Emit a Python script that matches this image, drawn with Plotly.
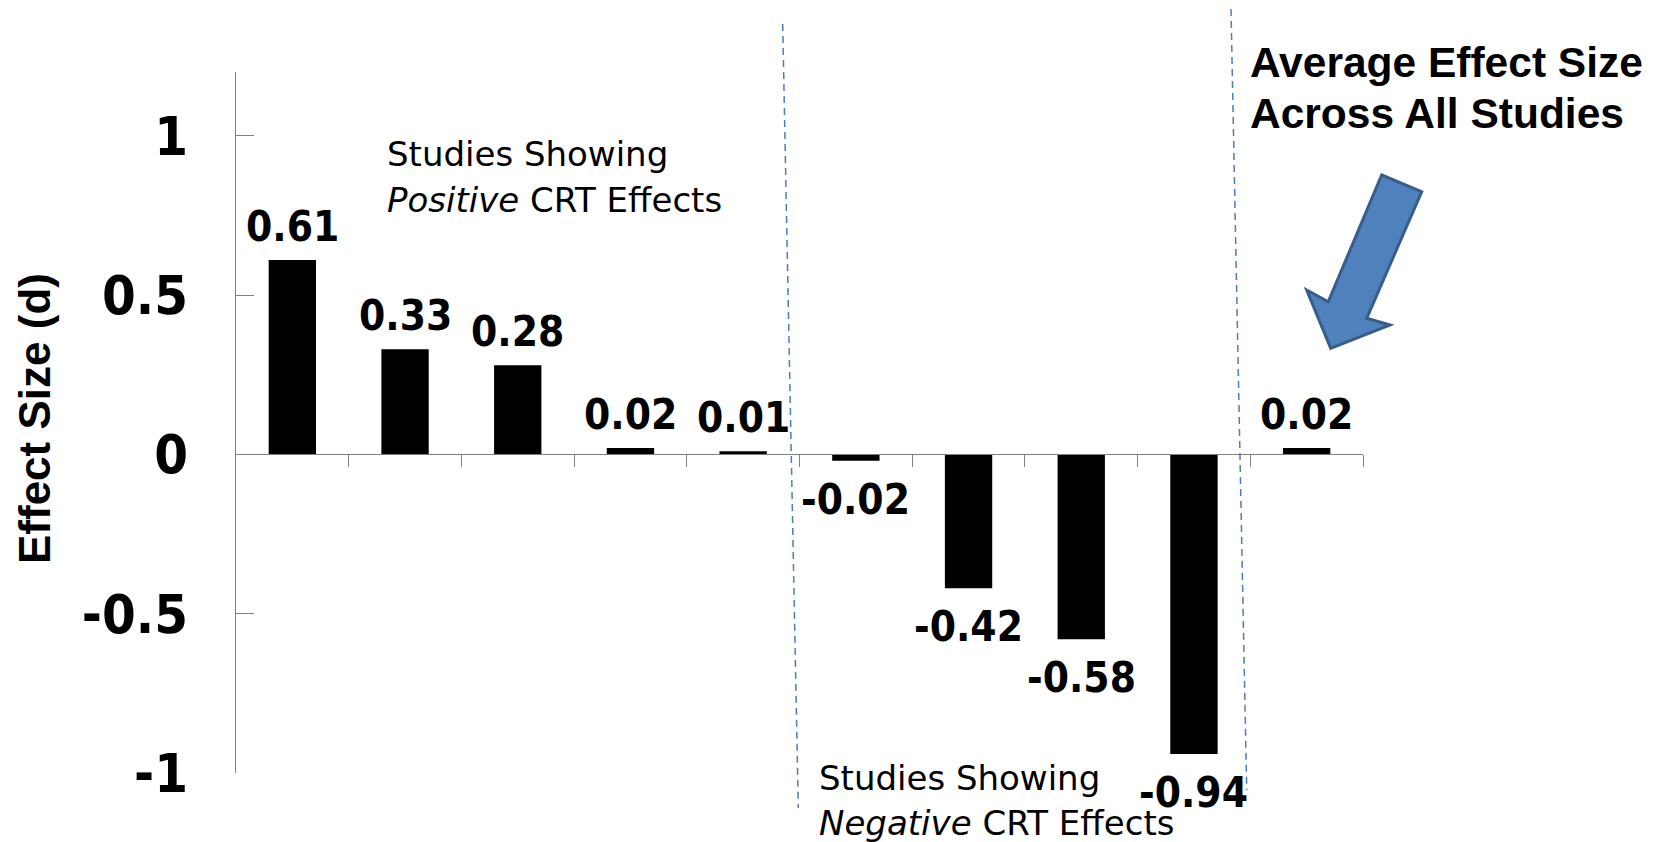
import plotly.graph_objects as go

# ---- data ----
studies = list(range(10))
effect_sizes = [0.61, 0.33, 0.28, 0.02, 0.01, -0.02, -0.42, -0.58, -0.94, 0.02]
y_tick_vals = [-1, -0.5, 0, 0.5, 1]
y_tick_text = ["-1", "-0.5", "0", "0.5", "1"]
y_title = "Effect Size (d)"

W, H = 1664, 842
L, R, T, B = 236, 301, 72, 69
pw, ph = W - L - R, H - T - B


def pxx(x):
    return (x - L) / pw


def pyy(y):
    return (H - B - y) / ph


LABEL_FONT = dict(family="DejaVu Sans Condensed, DejaVu Sans", size=42, color="black", weight="bold")
TICK_FONT = dict(family="DejaVu Sans Condensed, DejaVu Sans", size=54, color="black", weight="bold")

fig = go.Figure()
fig.add_trace(go.Bar(
    x=studies, y=effect_sizes, width=0.42,
    marker=dict(color="black", line=dict(width=0)),
    hoverinfo="skip", showlegend=False,
))

annotations = []
for xi, v in zip(studies, effect_sizes):
    annotations.append(dict(
        x=xi, y=v, xref="x", yref="y", text=f"{v:.2f}", showarrow=False,
        xanchor="center", yanchor="bottom" if v >= 0 else "top",
        yshift=7 if v >= 0 else -12, font=LABEL_FONT,
    ))

# axis title (rotated)
annotations.append(dict(
    x=pxx(34), y=pyy(418), xref="paper", yref="paper", text=y_title,
    showarrow=False, textangle=-90, xanchor="center", yanchor="middle",
    font=dict(family="Liberation Sans, Arial", size=44, color="black", weight="bold"),
))

REG_SIZE = 34
REG = dict(family="DejaVu Sans", size=REG_SIZE, color="black")
asc_reg = 0.928 * REG_SIZE + 1


def line_note(text, left, baseline, font, asc):
    return dict(x=pxx(left), y=pyy(baseline - asc), xref="paper", yref="paper",
                text=text, showarrow=False, xanchor="left", yanchor="top",
                font=font, borderpad=0)


annotations.append(line_note("Studies Showing", 386, 166, REG, asc_reg))
annotations.append(line_note("<i>Positive</i> CRT Effects", 386, 212, REG, asc_reg))
annotations.append(line_note("Studies Showing", 818, 790, REG, asc_reg))
annotations.append(line_note("<i>Negative</i> CRT Effects", 818, 835, REG, asc_reg))

BOLD = dict(family="Liberation Sans, Arial", size=42.5, color="black", weight="bold")
asc_bold = 0.905 * 42.5
annotations.append(line_note("Average Effect Size", 1249, 76, BOLD, asc_bold))
annotations.append(line_note("Across All Studies", 1249, 127, BOLD, asc_bold))

shapes = [
    dict(type="line", xref="paper", yref="paper",
         x0=pxx(782.7), y0=pyy(24), x1=pxx(798.3), y1=pyy(808),
         line=dict(color="#4a7ebb", width=1.5, dash="7px,5px")),
    dict(type="line", xref="paper", yref="paper",
         x0=pxx(1231), y0=pyy(9), x1=pxx(1246.7), y1=pyy(790),
         line=dict(color="#4a7ebb", width=1.5, dash="7px,5px")),
]

arrow_px = [(1381.7, 175), (1421.7, 191.7), (1366.7, 318.3), (1390, 325),
            (1330.7, 348.3), (1306.7, 290), (1328.3, 301.7)]
path = "M " + " L ".join(f"{pxx(x):.5f},{pyy(y):.5f}" for x, y in arrow_px) + " Z"
shapes.append(dict(type="path", xref="paper", yref="paper", path=path,
                   fillcolor="#4f81bd", line=dict(color="#385d8a", width=3)))

fig.update_layout(
    width=W, height=H,
    margin=dict(l=L, r=R, t=T, b=B, pad=0, autoexpand=False),
    paper_bgcolor="white", plot_bgcolor="white",
    showlegend=False,
    annotations=annotations, shapes=shapes,
    xaxis=dict(
        range=[-0.5, 9.5], anchor="free", position=1 / 2.2,
        showline=True, linecolor="#808080", linewidth=1.2,
        ticks="outside", ticklen=12, tickcolor="#808080", tickwidth=1.2,
        tickvals=[i + 0.5 for i in studies], showticklabels=False,
        showgrid=False, zeroline=False, fixedrange=True, automargin=False,
    ),
    yaxis=dict(
        range=[-1, 1.2], showline=True, linecolor="#808080", linewidth=1.2,
        ticks="inside", ticklen=18, tickcolor="#808080", tickwidth=1.2,
        tickvals=y_tick_vals, ticktext=y_tick_text, tickfont=TICK_FONT,
        ticklabelstandoff=36,
        showgrid=False, zeroline=False, fixedrange=True, automargin=False,
    ),
)

fig.write_html(
    "out.html",
    config={"displayModeBar": False},
    post_script="document.body.style.margin='0';document.body.style.padding='0';"
                "document.body.style.overflow='hidden';",
)
